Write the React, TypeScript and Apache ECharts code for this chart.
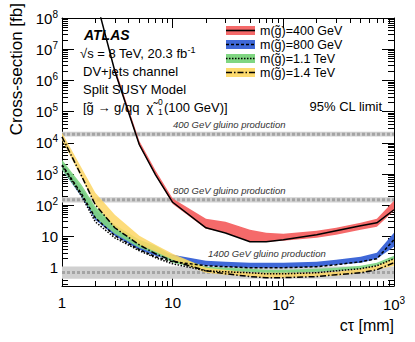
import { useEffect, useRef } from 'react';
import * as echarts from 'echarts';

const FONT = '"Liberation Sans", Arial, Helvetica, sans-serif';

// c*tau points (mm)
const ctValues = [1, 1.5, 2, 3, 5, 7, 10, 20, 30, 50, 70, 100, 200, 300, 500, 700, 1000];

// m(gluino)=400 GeV
const ct400Obs = [2, 3, 5, 7, 10, 20, 30, 50, 70, 100, 200, 300, 500, 700, 1000];
const obs400 = [4.8e8, 2.0e6, 8700, 950, 125, 19, 13, 6.8, 6.8, 7.9, 11.4, 15.3, 22, 27.5, 72];
const ct400Band = [3, 5, 7, 10, 20, 30, 50, 70, 100, 200, 300, 500, 700, 1000];
const exp400Up = [2.6e6, 1.15e4, 1300, 165, 37, 30, 16.4, 13.2, 12.2, 15.3, 19.1, 27.5, 37, 139];
const exp400Down = [1.8e6, 8000, 900, 110, 17.7, 13.2, 6.8, 6.8, 7.3, 9.1, 11.4, 16.4, 20.5, 67];

// m(gluino)=800 GeV
const exp800Up = [2470, 363, 71.8, 19.1, 6.3, 3.8, 2.6, 1.67, 1.56, 1.45, 1.45, 1.45, 1.56, 1.8, 2.25, 3.0, 13.2];
const exp800Down = [1370, 187, 34.4, 10.6, 3.8, 2.4, 1.67, 1.16, 1.08, 1.0, 1.0, 1.0, 1.08, 1.25, 1.45, 1.94, 4.7];
const obs800 = [1980, 233, 39.8, 10.6, 3.8, 2.25, 1.56, 1.16, 1.08, 1.0, 1.0, 1.0, 1.08, 1.25, 1.56, 1.94, 7.9];

// m(gluino)=1.1 TeV
const exp1100Up = [2860, 453, 89.5, 23.8, 7.9, 5.1, 2.4, 1.08, 1.0, 0.93, 0.86, 0.86, 0.93, 1.0, 1.16, 1.45, 2.4];
const exp1100Down = [1370, 201, 39.8, 12.2, 4.4, 2.8, 1.45, 0.86, 0.8, 0.74, 0.69, 0.69, 0.74, 0.8, 0.93, 1.16, 1.8];
const obs1100 = [1840, 201, 29.6, 9.1, 3.5, 2.1, 1.34, 0.8, 0.74, 0.69, 0.64, 0.64, 0.69, 0.8, 0.93, 1.16, 1.94];

// m(gluino)=1.4 TeV
const exp1400Up = [20900, 1585, 251, 49.7, 10.6, 5.4, 2.8, 1.0, 0.86, 0.69, 0.69, 0.69, 0.69, 0.74, 0.93, 1.16, 1.94];
const exp1400Down = [12470, 759, 104, 19.1, 5.4, 3.25, 1.8, 0.69, 0.6, 0.52, 0.48, 0.48, 0.52, 0.55, 0.69, 0.86, 1.16];
const obs1400 = [15560, 879, 104, 19.1, 5.4, 2.8, 1.67, 0.8, 0.64, 0.52, 0.48, 0.48, 0.52, 0.6, 0.69, 0.86, 1.45];

// gluino production cross-sections (fb)
const prodLabels = ['400 GeV gluino production', '800 GeV gluino production', '1400 GeV gluino production'];
const prodXsec = [1.9e4, 150, 0.71];
const prodLow = [1.6e4, 123, 0.44];
const prodHigh = [2.25e4, 182, 1.1];

const legendNames = ['m(g̃)=400 GeV', 'm(g̃)=800 GeV', 'm(g̃)=1.1 TeV', 'm(g̃)=1.4 TeV'];

// axis ticks
const xMajor = [1, 10, 100, 1000];
const yMajor = [1, 10, 1e2, 1e3, 1e4, 1e5, 1e6, 1e7, 1e8];
const X_MIN = 1, X_MAX = 1000, Y_MIN = 0.26, Y_MAX = 1e8;

function minorTicks(lo: number, hi: number): number[] {
  const out: number[] = [];
  for (let e = Math.floor(Math.log10(lo)); e < Math.ceil(Math.log10(hi)); e++) {
    for (let m = 2; m <= 9; m++) {
      const v = m * Math.pow(10, e);
      if (v >= lo && v <= hi) out.push(v);
    }
  }
  return out;
}
const xMinor = minorTicks(X_MIN, X_MAX);
const yMinor = minorTicks(Y_MIN, Y_MAX);

const zip = (xs: number[], ys: number[]) => xs.map((x, i) => [x, ys[i]]);

function band(xs: number[], lo: number[], hi: number[], color: string, z: number) {
  return {
    type: 'custom',
    xAxisIndex: 0,
    yAxisIndex: 0,
    silent: true,
    z,
    clip: true,
    data: [[xs[0], lo[0]]],
    renderItem: (_p: any, api: any) => {
      const pts: number[][] = [];
      for (let i = 0; i < xs.length; i++) pts.push(api.coord([xs[i], hi[i]]));
      for (let i = xs.length - 1; i >= 0; i--) pts.push(api.coord([xs[i], lo[i]]));
      return { type: 'polygon', shape: { points: pts }, style: { fill: color, stroke: 'none' } };
    },
  };
}

function line(xs: number[], ys: number[], dash: any, z: number, width = 1.5) {
  return {
    type: 'line',
    xAxisIndex: 0,
    yAxisIndex: 0,
    data: zip(xs, ys),
    symbol: 'none',
    silent: true,
    z,
    lineStyle: { color: '#000', width, type: dash },
  };
}

const RED = '#f56a6a';
const BLUE = '#3f68d8';
const GREEN = 'rgba(128,214,130,0.92)';
const YELLOW = 'rgba(253,214,100,0.85)';
const GRAY = '#d0d0d0';

const supRich = {
  b: { fontSize: 15, fontFamily: FONT, color: '#000', lineHeight: 18 },
  s: { fontSize: 10, fontFamily: FONT, color: '#000', verticalAlign: 'top', lineHeight: 8 },
};
const powFmt = (v: number) => {
  const e = Math.round(Math.log10(v));
  if (e === 0) return '1';
  if (e === 1) return '10';
  return `{b|10}{s|${e}}`;
};

const tickLine = { color: '#000', width: 1 };

function xAxes() {
  const base = { type: 'log', logBase: 10, min: X_MIN, max: X_MAX, splitLine: { show: false }, gridIndex: 0 };
  return [
    {
      ...base, position: 'bottom',
      axisLine: { show: true, lineStyle: tickLine },
      axisTick: { show: true, inside: true, length: 10, customValues: xMajor, lineStyle: tickLine },
      axisLabel: { show: true, customValues: xMajor, formatter: powFmt, rich: supRich, margin: 9, color: '#000', fontSize: 15, fontFamily: FONT },
    },
    {
      ...base, position: 'bottom',
      axisLine: { show: false },
      axisTick: { show: true, inside: true, length: 5, customValues: xMinor, lineStyle: tickLine },
      axisLabel: { show: false },
    },
    {
      ...base, position: 'top',
      axisLine: { show: true, lineStyle: tickLine },
      axisTick: { show: true, inside: true, length: 10, customValues: xMajor, lineStyle: tickLine },
      axisLabel: { show: false },
    },
    {
      ...base, position: 'top',
      axisLine: { show: false },
      axisTick: { show: true, inside: true, length: 5, customValues: xMinor, lineStyle: tickLine },
      axisLabel: { show: false },
    },
  ];
}

function yAxes() {
  const base = { type: 'log', logBase: 10, min: Y_MIN, max: Y_MAX, splitLine: { show: false }, gridIndex: 0 };
  return [
    {
      ...base, position: 'left',
      axisLine: { show: true, lineStyle: tickLine },
      axisTick: { show: true, inside: true, length: 12, customValues: yMajor, lineStyle: tickLine },
      axisLabel: { show: true, customValues: yMajor, formatter: powFmt, rich: supRich, margin: 4, color: '#000', fontSize: 15, fontFamily: FONT },
    },
    {
      ...base, position: 'left',
      axisLine: { show: false },
      axisTick: { show: true, inside: true, length: 6, customValues: yMinor, lineStyle: tickLine },
      axisLabel: { show: false },
    },
    {
      ...base, position: 'right',
      axisLine: { show: true, lineStyle: tickLine },
      axisTick: { show: true, inside: true, length: 12, customValues: yMajor, lineStyle: tickLine },
      axisLabel: { show: false },
    },
    {
      ...base, position: 'right',
      axisLine: { show: false },
      axisTick: { show: true, inside: true, length: 6, customValues: yMinor, lineStyle: tickLine },
      axisLabel: { show: false },
    },
  ];
}

function txt(text: string, x: number, y: number, opts: any = {}) {
  return {
    type: 'text', x, y, silent: true, z: 100,
    rotation: opts.rotation || 0,
    style: {
      text,
      fontSize: opts.fontSize || 13,
      fontFamily: FONT,
      fontStyle: opts.fontStyle || 'normal',
      fontWeight: opts.fontWeight || 'normal',
      fill: opts.fill || '#000',
      align: opts.align || 'left',
      verticalAlign: 'middle',
      rich: opts.rich,
    },
  };
}

function legendGraphics() {
  const rows = [30.5, 44.5, 58.5, 72.5];
  const fills = [RED, BLUE, 'rgb(128,214,130)', 'rgb(253,218,110)'];
  const dashes = [null, [3, 2], [1.5, 1.5], [6, 2, 1.5, 2]];
  const out: any[] = [];
  rows.forEach((y, i) => {
    out.push({ type: 'rect', shape: { x: 226, y: y - 4.5, width: 29, height: 9 }, style: { fill: fills[i] }, silent: true, z: 100 });
    out.push({ type: 'line', shape: { x1: 226, y1: y, x2: 255, y2: y }, style: { stroke: '#000', lineWidth: 1.6, lineDash: dashes[i] }, silent: true, z: 101 });
    out.push(txt(legendNames[i], 260, y, { fontSize: 12.5 }));
  });
  return out;
}

export default function App() {
  const ref = useRef<HTMLDivElement>(null);
  useEffect(() => {
    const chart = echarts.init(ref.current!, null, { renderer: 'svg' });
    const series: any[] = [];
    prodXsec.forEach((v, i) => {
      series.push(band([X_MIN, X_MAX], [prodLow[i], prodLow[i]], [prodHigh[i], prodHigh[i]], GRAY, 1));
      series.push({
        type: 'line', xAxisIndex: 0, yAxisIndex: 0, data: [[X_MIN, v], [X_MAX, v]], symbol: 'none', silent: true, z: 2,
        lineStyle: { color: '#a4a4a4', width: 3, type: [3, 2] },
      });
    });
    series.push(band(ct400Band, exp400Down, exp400Up, RED, 3));
    series.push(band(ctValues, exp800Down, exp800Up, BLUE, 4));
    series.push(band(ctValues, exp1100Down, exp1100Up, GREEN, 5));
    series.push(band(ctValues, exp1400Down, exp1400Up, YELLOW, 6));
    series.push(line(ct400Obs, obs400, 'solid', 10));
    series.push(line(ctValues, obs800, [3, 2], 10));
    series.push(line(ctValues, obs1100, [1.5, 1.5], 10));
    series.push(line(ctValues, obs1400, [6, 2, 1.5, 2], 10));

    const graphic: any[] = [
      txt('ATLAS', 84, 35, { fontSize: 14, fontWeight: 'bold', fontStyle: 'italic' }),
      txt('{a|√s = 8 TeV, 20.3 fb}{s|-1}', 80, 53, {
        rich: {
          a: { fontSize: 13, fontFamily: FONT, lineHeight: 16 },
          s: { fontSize: 9, fontFamily: FONT, verticalAlign: 'top', lineHeight: 7 },
        },
      }),
      txt('DV+jets channel', 83, 71),
      txt('Split SUSY Model', 83, 89),
      txt('[g̃ → g/qq  χ̃', 83, 107),
      txt('0', 158, 102, { fontSize: 8.5 }),
      txt('1', 158, 112, { fontSize: 8.5 }),
      txt('(100 GeV)]', 164, 107),
      txt('95% CL limit', 382, 106, { align: 'right' }),
      txt(prodLabels[0], 173, 124, { fontSize: 9.5, fontStyle: 'italic', fill: '#333' }),
      txt(prodLabels[1], 173, 190, { fontSize: 9.5, fontStyle: 'italic', fill: '#333' }),
      txt(prodLabels[2], 208, 253, { fontSize: 9.5, fontStyle: 'italic', fill: '#333' }),
      txt('Cross-section [fb]', 16, 3, { fontSize: 17, rotation: Math.PI / 2, align: 'right' }),
      txt('cτ [mm]', 394, 325, { fontSize: 16, align: 'right' }),
      ...legendGraphics(),
    ];

    chart.setOption({
      animation: false,
      backgroundColor: '#fff',
      grid: { left: 62, right: 21, top: 18, bottom: 56, containLabel: false },
      xAxis: xAxes(),
      yAxis: yAxes(),
      series,
      graphic,
    });
    return () => chart.dispose();
  }, []);
  return <div ref={ref} style={{ position: 'absolute', left: 0, top: 0, width: 415, height: 342, background: '#fff' }} />;
}
